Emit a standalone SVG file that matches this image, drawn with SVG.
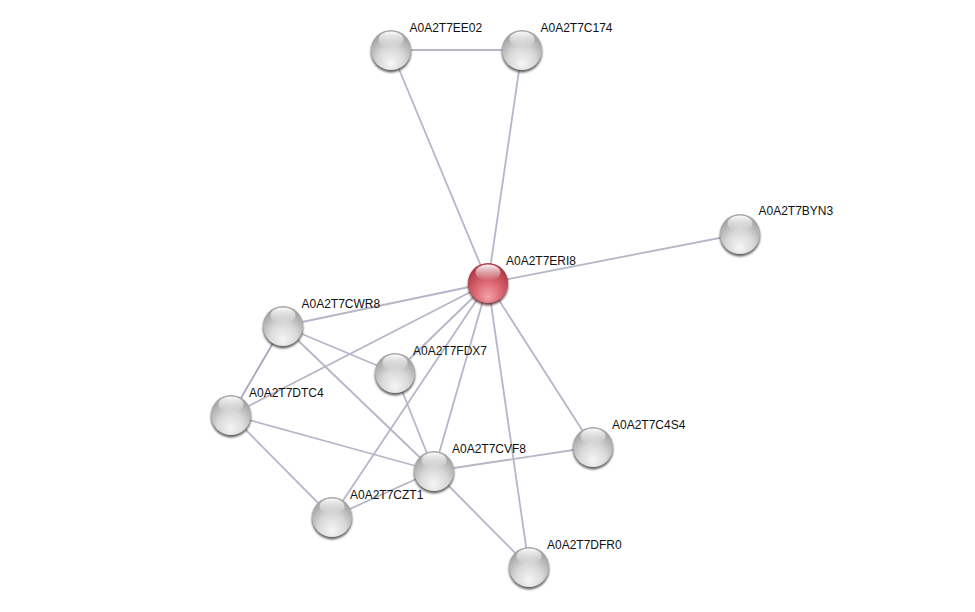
<svg xmlns="http://www.w3.org/2000/svg" width="975" height="612" viewBox="0 0 975 612">
<defs>
<radialGradient id="gGray" cx="0.5" cy="0.72" r="0.62" fx="0.5" fy="0.85">
<stop offset="0" stop-color="#f6f6f6"/>
<stop offset="0.55" stop-color="#d8d8d8"/>
<stop offset="1" stop-color="#a6a6a6"/>
</radialGradient>
<radialGradient id="gRed" cx="0.5" cy="0.72" r="0.62" fx="0.5" fy="0.85">
<stop offset="0" stop-color="#f4a4aa"/>
<stop offset="0.55" stop-color="#da6570"/>
<stop offset="1" stop-color="#b03a46"/>
</radialGradient>
<linearGradient id="gHi" x1="0" y1="0" x2="0" y2="1">
<stop offset="0" stop-color="#ffffff" stop-opacity="0.95"/>
<stop offset="1" stop-color="#ffffff" stop-opacity="0"/>
</linearGradient>
<filter id="blur" x="-30%" y="-30%" width="160%" height="160%">
<feGaussianBlur stdDeviation="1"/>
</filter>
<g id="sphere">
<circle cx="0" cy="2.2" r="20.2" fill="#3a3a3a" opacity="0.8" filter="url(#blur)"/>
<circle cx="0" cy="0" r="20" fill="url(#gGray)"/>
<ellipse cx="0" cy="-10.5" rx="12.5" ry="8" fill="url(#gHi)"/>
</g>
<g id="sphereRed">
<circle cx="0" cy="2.2" r="20.2" fill="#4a1a1e" opacity="0.8" filter="url(#blur)"/>
<circle cx="0" cy="0" r="20" fill="url(#gRed)"/>
<ellipse cx="0" cy="-10.5" rx="12.5" ry="8" fill="url(#gHi)"/>
</g>
</defs>
<style>
.edge{stroke:#b6b6c9;stroke-width:1.8;fill:none}
.lbl{font-family:"Liberation Sans",Arial,sans-serif;font-size:12px;fill:#111111}
</style>
<rect width="975" height="612" fill="#ffffff"/>
<g id="connectors">
<line class="edge" x1="391" y1="50" x2="522" y2="50"/>
<line class="edge" x1="391" y1="50" x2="488" y2="283"/>
<line class="edge" x1="522" y1="50" x2="488" y2="283"/>
<line class="edge" x1="740" y1="234" x2="488" y2="283"/>
<line class="edge" x1="283" y1="326" x2="488" y2="283"/>
<line class="edge" x1="395" y1="373" x2="488" y2="283"/>
<line class="edge" x1="231" y1="415" x2="488" y2="283"/>
<line class="edge" x1="332" y1="517" x2="488" y2="283"/>
<line class="edge" x1="434" y1="471" x2="488" y2="283"/>
<line class="edge" x1="593" y1="447" x2="488" y2="283"/>
<line class="edge" x1="529" y1="567" x2="488" y2="283"/>
<line class="edge" x1="283" y1="326" x2="395" y2="373"/>
<line class="edge" x1="283" y1="326" x2="434" y2="471"/>
<line class="edge" x1="283" y1="326" x2="231" y2="415" style="stroke:#a8a8be"/>
<line class="edge" x1="231" y1="415" x2="434" y2="471"/>
<line class="edge" x1="231" y1="415" x2="332" y2="517"/>
<line class="edge" x1="395" y1="373" x2="434" y2="471"/>
<line class="edge" x1="434" y1="471" x2="593" y2="447"/>
<line class="edge" x1="434" y1="471" x2="332" y2="517"/>
<line class="edge" x1="434" y1="471" x2="529" y2="567"/>
</g>
<g id="n_EE02"><use href="#sphere" x="391" y="50"/><text class="lbl" x="409.5" y="32">A0A2T7EE02</text></g>
<g id="n_C174"><use href="#sphere" x="522" y="50"/><text class="lbl" x="540.5" y="32">A0A2T7C174</text></g>
<g id="n_BYN3"><use href="#sphere" x="740" y="234"/><text class="lbl" x="758.5" y="215">A0A2T7BYN3</text></g>
<g id="n_ERI8"><use href="#sphereRed" x="488" y="283"/><text class="lbl" x="506" y="265">A0A2T7ERI8</text></g>
<g id="n_CWR8"><use href="#sphere" x="283" y="326"/><text class="lbl" x="301.5" y="308">A0A2T7CWR8</text></g>
<g id="n_FDX7"><use href="#sphere" x="395" y="373"/><text class="lbl" x="413" y="355">A0A2T7FDX7</text></g>
<g id="n_DTC4"><use href="#sphere" x="231" y="415"/><text class="lbl" x="249" y="397">A0A2T7DTC4</text></g>
<g id="n_CVF8"><use href="#sphere" x="434" y="471"/><text class="lbl" x="452" y="453">A0A2T7CVF8</text></g>
<g id="n_C4S4"><use href="#sphere" x="593" y="447"/><text class="lbl" x="612" y="429">A0A2T7C4S4</text></g>
<g id="n_CZT1"><use href="#sphere" x="332" y="517"/><text class="lbl" x="350" y="499">A0A2T7CZT1</text></g>
<g id="n_DFR0"><use href="#sphere" x="529" y="567"/><text class="lbl" x="547" y="549">A0A2T7DFR0</text></g>
</svg>
